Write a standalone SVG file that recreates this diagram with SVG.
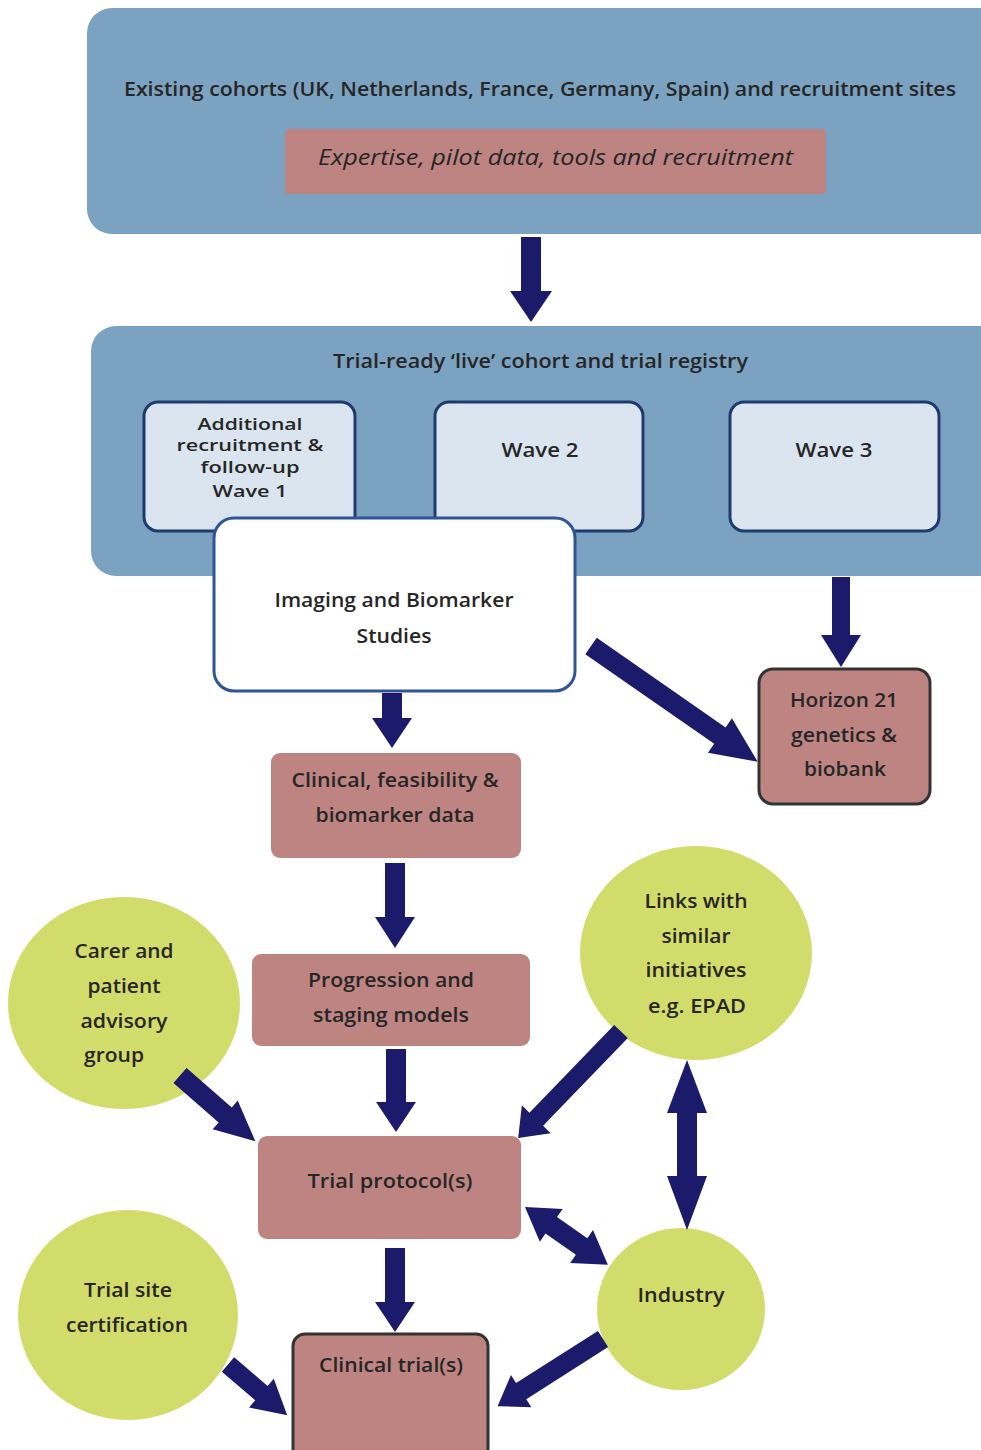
<svg xmlns="http://www.w3.org/2000/svg" width="981" height="1450" viewBox="0 0 981 1450">
<style>
.t{font-family:"Open Sans","Noto Sans","Liberation Sans",sans-serif;font-weight:600;font-size:19px;fill:#262626;text-anchor:middle}
.s{font-size:17px}
.cont{fill:#7ba3c1}
.wave{fill:#dbe5f0;stroke:#1f3a6e;stroke-width:3}
.pink{fill:#bd8482}
.pinkb{fill:#bd8482;stroke:#333;stroke-width:3}
.green{fill:#d2dc6b}
.arr{fill:#1b1a6b}
</style>
<rect width="981" height="1450" fill="#ffffff"/>

<g id="existing-cohorts">
<rect class="cont" x="87" y="8" width="930" height="226" rx="25"/>
<text class="t" x="540" y="96" style="font-size:20px" textLength="832" lengthAdjust="spacingAndGlyphs">Existing cohorts (UK, Netherlands, France, Germany, Spain) and recruitment sites</text>
</g>
<g id="expertise">
<rect class="pink" x="285" y="129" width="541" height="65" rx="4"/>
<text class="t" x="555.5" y="165" style="font-size:22px;font-style:italic;font-weight:500" textLength="475" lengthAdjust="spacingAndGlyphs">Expertise, pilot data, tools and recruitment</text>
</g>

<g id="trial-ready-cohort">
<rect class="cont" x="91" y="326" width="930" height="250" rx="25"/>
<text class="t" x="540.5" y="368" style="font-size:20px" textLength="415" lengthAdjust="spacingAndGlyphs">Trial-ready ‘live’ cohort and trial registry</text>
</g>
<g id="wave1">
<rect class="wave" x="144" y="402" width="211" height="129" rx="14"/>
<text class="t s" x="250" y="430" textLength="105" lengthAdjust="spacingAndGlyphs">Additional</text>
<text class="t s" x="250" y="451" textLength="147" lengthAdjust="spacingAndGlyphs">recruitment &amp;</text>
<text class="t s" x="250" y="473" textLength="99" lengthAdjust="spacingAndGlyphs">follow-up</text>
<text class="t s" x="250" y="497" textLength="75" lengthAdjust="spacingAndGlyphs">Wave 1</text>
</g>
<g id="wave2">
<rect class="wave" x="435" y="402" width="208" height="129" rx="14"/>
<text class="t" x="540" y="457" textLength="77" lengthAdjust="spacingAndGlyphs">Wave 2</text>
</g>
<g id="wave3">
<rect class="wave" x="730" y="402" width="209" height="129" rx="14"/>
<text class="t" x="834" y="457" textLength="77" lengthAdjust="spacingAndGlyphs">Wave 3</text>
</g>
<g id="imaging">
<rect x="214" y="518" width="361" height="173" rx="20" fill="#ffffff" stroke="#2e5597" stroke-width="3"/>
<text class="t" x="394" y="607" textLength="239" lengthAdjust="spacingAndGlyphs">Imaging and Biomarker</text>
<text class="t" x="394" y="643" textLength="75" lengthAdjust="spacingAndGlyphs">Studies</text>
</g>
<g id="horizon21">
<rect class="pinkb" x="759" y="669" width="171" height="135" rx="14"/>
<text class="t" x="844" y="707" textLength="108" lengthAdjust="spacingAndGlyphs">Horizon 21</text>
<text class="t" x="844" y="742" textLength="106" lengthAdjust="spacingAndGlyphs">genetics &amp;</text>
<text class="t" x="845" y="776" textLength="82" lengthAdjust="spacingAndGlyphs">biobank</text>
</g>
<g id="clinical-data">
<rect class="pink" x="271" y="753" width="250" height="105" rx="9"/>
<text class="t" x="395" y="787" textLength="207" lengthAdjust="spacingAndGlyphs">Clinical, feasibility &amp;</text>
<text class="t" x="395" y="822" textLength="159" lengthAdjust="spacingAndGlyphs">biomarker data</text>
</g>
<g id="progression">
<rect class="pink" x="252" y="954" width="278" height="92" rx="9"/>
<text class="t" x="391" y="987" textLength="166" lengthAdjust="spacingAndGlyphs">Progression and</text>
<text class="t" x="391" y="1022" textLength="156" lengthAdjust="spacingAndGlyphs">staging models</text>
</g>
<g id="carer">
<ellipse class="green" cx="124" cy="1003" rx="116" ry="106"/>
<text class="t" x="124" y="958" textLength="99" lengthAdjust="spacingAndGlyphs">Carer and</text>
<text class="t" x="124" y="993" textLength="73" lengthAdjust="spacingAndGlyphs">patient</text>
<text class="t" x="124" y="1028" textLength="87" lengthAdjust="spacingAndGlyphs">advisory</text>
<text class="t" x="114" y="1062" textLength="60" lengthAdjust="spacingAndGlyphs">group</text>
</g>
<g id="links">
<ellipse class="green" cx="696" cy="953" rx="116" ry="107"/>
<text class="t" x="696" y="908" textLength="103" lengthAdjust="spacingAndGlyphs">Links with</text>
<text class="t" x="696" y="943" textLength="69" lengthAdjust="spacingAndGlyphs">similar</text>
<text class="t" x="696" y="977" textLength="101" lengthAdjust="spacingAndGlyphs">initiatives</text>
<text class="t" x="697" y="1013" textLength="98" lengthAdjust="spacingAndGlyphs">e.g. EPAD</text>
</g>
<g id="trial-protocol">
<rect class="pink" x="258" y="1136" width="263" height="103" rx="9"/>
<text class="t" x="390" y="1188" textLength="165" lengthAdjust="spacingAndGlyphs">Trial protocol(s)</text>
</g>
<g id="industry">
<ellipse class="green" cx="681" cy="1309" rx="84" ry="81"/>
<text class="t" x="681" y="1302" textLength="87" lengthAdjust="spacingAndGlyphs">Industry</text>
</g>
<g id="trial-site">
<ellipse class="green" cx="128" cy="1315" rx="110" ry="105"/>
<text class="t" x="128" y="1297" textLength="88" lengthAdjust="spacingAndGlyphs">Trial site</text>
<text class="t" x="127" y="1332" textLength="122" lengthAdjust="spacingAndGlyphs">certification</text>
</g>
<g id="clinical-trials">
<rect class="pinkb" x="293" y="1334" width="195" height="135" rx="12"/>
<text class="t" x="391" y="1372" textLength="144" lengthAdjust="spacingAndGlyphs">Clinical trial(s)</text>
</g>

<g id="connectors" class="arr">
<polygon points="521,237 541,237 541,291 552,291 531,322 510,291 521,291"/>
<polygon points="832,577 850,577 850,635 861,635 841,667 821,635 832,635"/>
<polygon points="382,693 402,693 402,718 412,718 392,748 372,718 382,718"/>
<polygon points="385,863 405,863 405,917 415,917 395,948 375,917 385,917"/>
<polygon points="386,1049 406,1049 406,1102 416,1102 396,1132 376,1102 386,1102"/>
<polygon points="385,1248 405,1248 405,1302 415,1302 395,1332 375,1302 385,1302"/>
<polygon transform="translate(591,646) rotate(34.8)" points="0,-10 157,-10 157,-21 203,0 157,21 157,10 0,10"/>
<polygon transform="translate(180,1075.5) rotate(41.1)" points="0,-10 60,-10 60,-19 100,0 60,19 60,10 0,10"/>
<polygon transform="translate(621,1031.5) rotate(134)" points="0,-9.5 122,-9.5 122,-20 148,0 122,20 122,9.5 0,9.5"/>
<polygon points="687,1060 707,1113 697,1113 697,1176 707,1176 687,1230 667,1176 677,1176 677,1113 667,1113"/>
<polygon transform="translate(525,1207) rotate(34.9)" points="0,0 32,-20 32,-10 69,-10 69,-20 101,0 69,20 69,10 32,10 32,20"/>
<polygon transform="translate(228,1364.5) rotate(40.6)" points="0,-9.5 44,-9.5 44,-19 78,0 44,19 44,9.5 0,9.5"/>
<polygon transform="translate(603,1339) rotate(147.5)" points="0,-9.5 97,-9.5 97,-19 125,0 97,19 97,9.5 0,9.5"/>
</g>
</svg>
